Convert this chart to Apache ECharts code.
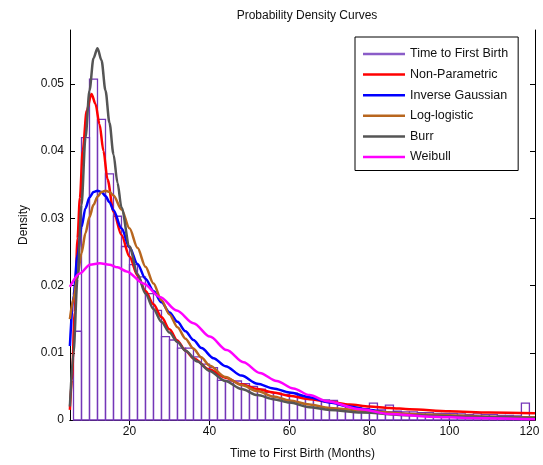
<!DOCTYPE html>
<html>
<head>
<meta charset="utf-8">
<script src="https://cdn.jsdelivr.net/npm/echarts@6/dist/echarts.min.js"></script>
<title>Probability Density Curves</title>
<style>
  html, body { margin: 0; padding: 0; background: #fff; }
  #main { width: 543px; height: 465px; }
</style>
</head>
<body>
<div id="main"></div>
<script>
// histogram: left bin edges (months), bin width 2
var binEdges = [6, 8, 10, 12, 14, 16, 18, 20, 22, 24, 26, 28, 30, 32, 34, 36, 38, 40, 42, 44,
  46, 48, 50, 52, 54, 56, 58, 60, 62, 64, 66, 68, 70, 72, 74, 76, 78, 80, 82, 84,
  86, 88, 90, 92, 94, 96, 98, 100, 102, 104, 106, 108, 110, 112, 114, 116, 118];
var binWidth = 2;
var histDensity = [0.0132, 0.042, 0.0507, 0.0447, 0.0366, 0.0303, 0.0258, 0.0231, 0.0213, 0.0188,
  0.0163, 0.0124, 0.0119, 0.0107, 0.0107, 0.0094, 0.0083, 0.0078, 0.0059, 0.0058,
  0.0058, 0.0054, 0.005, 0.0046, 0.0041, 0.004, 0.0038, 0.004, 0.0035, 0.0033,
  0.003, 0.003, 0.0029, 0.0022, 0.0021, 0.0018, 0.0017, 0.0025, 0.0015, 0.0022,
  0.0013, 0.0012, 0.0012, 0.0011, 0.0011, 0.001, 0.001, 0.001, 0.0009, 0.0008,
  0.0009, 0.0008, 0.0008, 0.0007, 0.0007, 0.0006, 0.0025];

// fitted curves: [months, density]
var nonParametric = [[5.1, 0.0015], [5.6, 0.006], [6.3, 0.016], [7.0, 0.027], [7.6, 0.033],
  [8.3, 0.040], [9.3, 0.046], [10.5, 0.0485], [11.5, 0.047], [12.5, 0.044], [13.5, 0.040],
  [14.5, 0.0358], [16, 0.031], [18, 0.0275], [20, 0.0243], [22, 0.0215], [24, 0.0192],
  [26, 0.0172], [28, 0.0153], [30, 0.0135], [32, 0.0118], [34, 0.0103], [36, 0.0092],
  [40, 0.0075], [44, 0.0063], [48, 0.0053], [52, 0.0046], [56, 0.0041], [60, 0.0036],
  [65, 0.0031], [70, 0.0027], [75, 0.0023], [80, 0.002], [85, 0.0018], [90, 0.0016],
  [100, 0.0013], [110, 0.0011], [121.4, 0.001]];
var inverseGaussian = [[5.1, 0.011], [6, 0.0185], [7, 0.0245], [8, 0.0287], [9, 0.0315],
  [10, 0.0331], [11, 0.0339], [12, 0.0341], [13, 0.0339], [14, 0.0333], [15, 0.0324],
  [16, 0.0312], [18, 0.0285], [20, 0.0257], [22, 0.0232], [24, 0.021], [26, 0.0192],
  [28, 0.0175], [30, 0.016], [32, 0.0146], [34, 0.0132], [36, 0.0119], [38, 0.0107],
  [41, 0.0092], [44, 0.008], [48, 0.0066], [52, 0.0054], [56, 0.0047], [60, 0.0041],
  [65, 0.0034], [70, 0.0026], [75, 0.002], [80, 0.0015], [85, 0.0011], [90, 0.0008],
  [100, 0.0005], [121.4, 0.0002]];
var logLogistic = [[5.1, 0.015], [6, 0.018], [7, 0.0215], [8, 0.0248], [9, 0.0278],
  [10, 0.0302], [11, 0.032], [12, 0.0332], [13, 0.0339], [14, 0.0341], [15, 0.0339],
  [16, 0.0334], [18, 0.0313], [20, 0.0285], [22, 0.0256], [24, 0.0228], [26, 0.0203],
  [28, 0.0178], [30, 0.0157], [32, 0.0138], [34, 0.0121], [36, 0.0106], [38, 0.0093],
  [40, 0.0081], [44, 0.0064], [48, 0.0052], [52, 0.0043], [56, 0.0035], [60, 0.0029],
  [65, 0.0023], [70, 0.0018], [80, 0.0013], [90, 0.0009], [100, 0.0007], [110, 0.0005],
  [121.4, 0.0004]];
var burr = [[5.1, 0.002], [6, 0.01], [7, 0.021], [8, 0.032], [9, 0.042], [10, 0.049],
  [11, 0.0538], [12, 0.0553], [13, 0.0535], [14, 0.049], [15, 0.0442], [16, 0.0395],
  [17, 0.0353], [18, 0.0316], [20, 0.0258], [22, 0.0217], [24, 0.0188], [26, 0.0165],
  [28, 0.0146], [30, 0.013], [32, 0.0116], [34, 0.0103], [37, 0.0087], [40, 0.0073],
  [44, 0.0058], [48, 0.0046], [52, 0.0037], [56, 0.0031], [60, 0.0026], [65, 0.0019],
  [70, 0.0015], [78, 0.0011], [90, 0.0007], [105, 0.0005], [121.4, 0.0003]];
var weibull = [[5.1, 0.0198], [7.6, 0.0218], [10.1, 0.0231], [12.6, 0.0233], [15, 0.0231],
  [17, 0.0227], [19.3, 0.0221], [23.5, 0.0203], [27.6, 0.0183], [31.8, 0.0163], [36, 0.0144],
  [40.1, 0.0124], [44.3, 0.0104], [48.5, 0.0086], [52.6, 0.0070], [56.8, 0.0058], [61, 0.0047],
  [65, 0.0037], [69.4, 0.0028], [77.6, 0.0016], [85, 0.0009], [95, 0.0005], [105, 0.0003],
  [121.4, 0.0001]];

var xTicks = [20, 40, 60, 80, 100, 120];
var yTicks = [0, 0.01, 0.02, 0.03, 0.04, 0.05];

var histColor = '#7436b8';
var font = 'Liberation Sans, Arial, sans-serif';

var histData = binEdges.map(function (e, i) {
  return [e, e + binWidth, histDensity[i]];
});

function curve(name, data, color) {
  return {
    name: name,
    type: 'line',
    data: data,
    symbol: 'none',
    smooth: 0.3,
    smoothMonotone: 'x',
    itemStyle: { color: color },
    lineStyle: { color: color, width: 2.5 },
    z: 3
  };
}

var myChart = echarts.init(document.getElementById('main'));
var option = {
  animation: false,
  title: {
    text: 'Probability Density Curves',
    left: 302,
    textAlign: 'center',
    top: 5,
    textStyle: { fontFamily: font, fontSize: 12, fontWeight: 'normal', color: '#111' }
  },
  grid: { left: 70, right: 8, top: 30, bottom: 45 },
  legend: {
    orient: 'vertical',
    left: 355,
    top: 37,
    icon: 'rect',
    itemWidth: 42,
    itemHeight: 2.5,
    itemGap: 7.6,
    padding: [10.5, 10, 7, 8],
    borderColor: '#000',
    borderWidth: 1,
    backgroundColor: '#fff',
    textStyle: { fontFamily: font, fontSize: 12.5, color: '#111' },
    data: ['Time to First Birth', 'Non-Parametric', 'Inverse Gaussian', 'Log-logistic', 'Burr', 'Weibull']
  },
  xAxis: [{
    type: 'value', min: 5.125, max: 121.4,
    name: 'Time to First Birth (Months)', nameLocation: 'middle', nameGap: 28,
    nameTextStyle: { fontFamily: font, fontSize: 12, color: '#111' },
    axisLine: { lineStyle: { color: '#000', width: 1 } },
    axisTick: { inside: true, length: 5, customValues: xTicks, lineStyle: { color: '#000' } },
    axisLabel: { customValues: xTicks, fontFamily: font, fontSize: 12, color: '#111', margin: 6 },
    splitLine: { show: false }
  }, {
    type: 'value', position: 'top', min: 5.125, max: 121.4,
    axisLine: { lineStyle: { color: '#000', width: 1 } },
    axisTick: { inside: true, length: 5, customValues: xTicks, lineStyle: { color: '#000' } },
    axisLabel: { show: false },
    splitLine: { show: false }
  }],
  yAxis: [{
    type: 'value', min: 0, max: 0.058,
    name: 'Density', nameLocation: 'middle', nameGap: 40,
    nameTextStyle: { fontFamily: font, fontSize: 12, color: '#111' },
    axisLine: { show: true, lineStyle: { color: '#000', width: 1 } },
    axisTick: { show: true, inside: true, length: 5, customValues: yTicks, lineStyle: { color: '#000' } },
    axisLabel: { customValues: yTicks, fontFamily: font, fontSize: 12, color: '#111', margin: 6 },
    splitLine: { show: false }
  }, {
    type: 'value', position: 'right', min: 0, max: 0.058,
    axisLine: { show: true, lineStyle: { color: '#000', width: 1 } },
    axisTick: { show: true, inside: true, length: 5, customValues: yTicks, lineStyle: { color: '#000' } },
    axisLabel: { show: false },
    splitLine: { show: false }
  }],
  series: [
    {
      name: 'Time to First Birth',
      type: 'custom',
      data: histData,
      encode: { x: [0, 1], y: 2 },
      itemStyle: { color: '#8a5cc8' },
      z: 2,
      renderItem: function (params, api) {
        var p0 = api.coord([api.value(0), api.value(2)]);
        var p1 = api.coord([api.value(1), 0]);
        return {
          type: 'rect',
          shape: { x: p0[0], y: p0[1], width: p1[0] - p0[0], height: p1[1] - p0[1] },
          style: { fill: 'none', stroke: histColor, lineWidth: 1.3 }
        };
      }
    },
    curve('Non-Parametric', nonParametric, '#ff0000'),
    curve('Inverse Gaussian', inverseGaussian, '#0000ff'),
    curve('Log-logistic', logLogistic, '#b8661e'),
    curve('Burr', burr, '#555555'),
    curve('Weibull', weibull, '#ff00ff')
  ]
};
myChart.setOption(option);
</script>
</body>
</html>
